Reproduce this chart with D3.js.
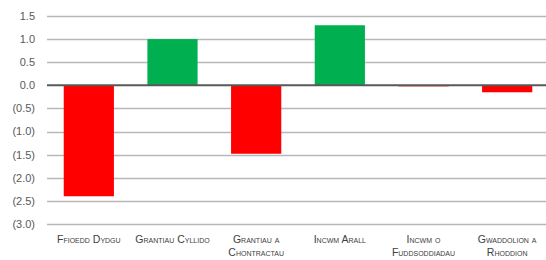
<!DOCTYPE html>
<html>
<head>
<meta charset="utf-8">
<script src="https://cdn.jsdelivr.net/npm/d3@7"></script>
<style>
  body { margin: 0; background: #fff; }
  svg { display: block; font-family: "Liberation Sans", Arial, sans-serif; }
</style>
</head>
<body>
<svg id="chart" width="546" height="260"></svg>
<script>
const categories = [
  ['Ffioedd Dydgu'],
  ['Grantiau Cyllido'],
  ['Grantiau a', 'Chontractau'],
  ['Incwm Arall'],
  ['Incwm o', 'Fuddsoddiadau'],
  ['Gwaddolion a', 'Rhoddion']
]
const values = [-2.4, 1.0, -1.48, 1.3, -0.02, -0.15]
const yTicks = [1.5, 1.0, 0.5, 0.0, -0.5, -1.0, -1.5, -2.0, -2.5, -3.0]

const svg = d3.select('#chart')

const x = d3.scaleBand()
  .domain(d3.range(values.length))
  .range([47, 549])
  .paddingInner(0.4)
  .paddingOuter(0.2)

const y = d3.scaleLinear()
  .domain([-3, 1.5])
  .range([224, 16])

const fmt = v => v < 0 ? '(' + d3.format('.1f')(-v) + ')' : d3.format('.1f')(v)

// gridlines
svg.append('g')
  .selectAll('line')
  .data(yTicks.filter(d => d !== 0))
  .enter().append('line')
  .attr('x1', 47).attr('x2', 546)
  .attr('y1', d => Math.round(y(d)) + 0.5)
  .attr('y2', d => Math.round(y(d)) + 0.5)
  .attr('stroke', '#b8b8b8')
  .attr('stroke-width', 1.3)

// tick labels
svg.append('g')
  .selectAll('text')
  .data(yTicks)
  .enter().append('text')
  .attr('x', 35)
  .attr('y', d => y(d))
  .attr('dy', '0.35em')
  .attr('text-anchor', 'end')
  .attr('font-size', 11)
  .attr('fill', '#595959')
  .text(fmt)

// bars
svg.append('g')
  .selectAll('rect')
  .data(values)
  .enter().append('rect')
  .attr('x', (d, i) => x(i))
  .attr('width', x.bandwidth())
  .attr('y', d => y(Math.max(0, d)))
  .attr('height', d => Math.max(1, Math.abs(y(d) - y(0))))
  .attr('fill', d => d >= 0 ? '#00b050' : '#ff0000')

// zero line
svg.append('line')
  .attr('x1', 47).attr('x2', 546)
  .attr('y1', y(0)).attr('y2', y(0))
  .attr('stroke', '#595959')
  .attr('stroke-width', 2)

// category labels
const labels = svg.append('g')
  .selectAll('text')
  .data(categories)
  .enter().append('text')
  .attr('x', (d, i) => x(i) + x.bandwidth() / 2)
  .attr('y', 243)
  .attr('text-anchor', 'middle')
  .attr('font-size', 10.5)
  .attr('fill', '#404040')
  .style('font-variant', 'small-caps')

labels.selectAll('tspan')
  .data(d => d)
  .enter().append('tspan')
  .attr('x', function () { return this.parentNode.getAttribute('x') })
  .attr('dy', (d, i) => i === 0 ? 0 : 13)
  .text(d => d)
</script>
</body>
</html>
